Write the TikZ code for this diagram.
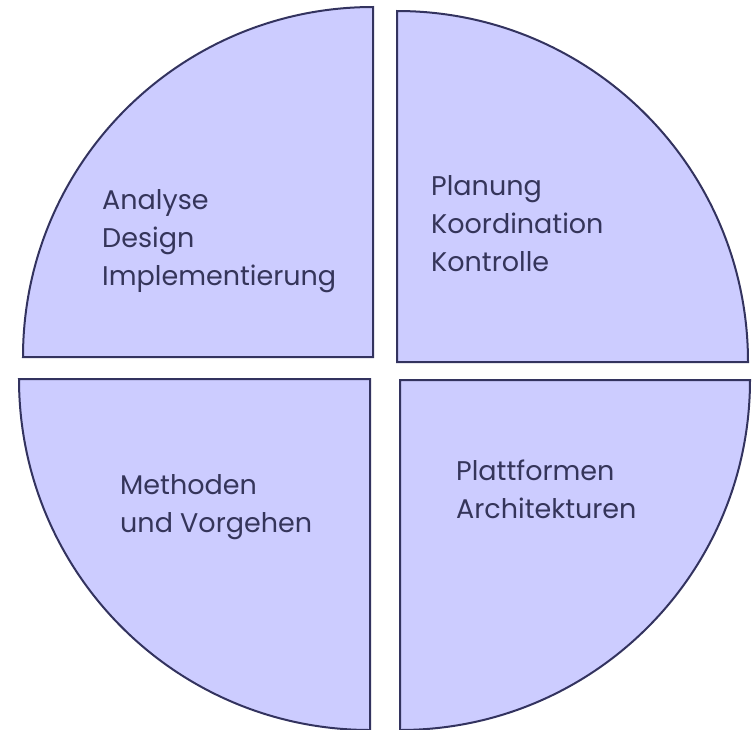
\documentclass[tikz,border=0pt]{standalone}
\usepackage{fontspec}
\setmainfont{Poppins}
\usetikzlibrary{positioning}
\definecolor{pie}{HTML}{CCCCFF}
\definecolor{rim}{HTML}{33335F}
\definecolor{ink}{HTML}{35355A}

\begin{document}
\begin{tikzpicture}[x=1pt,y=1pt,
				quarter/.style={fill=pie,draw=rim,line width=2pt,line join=miter},
				every node/.style={text=ink,anchor=north west,align=left,inner sep=0pt,
					font=\fontsize{27}{38}\selectfont}]
				\useasboundingbox (0,0) rectangle (752,-729);
				\draw[quarter] (373,-357) -- (373,-7)   arc[start angle=90, end angle=180,radius=350] -- cycle;
				\draw[quarter] (397,-362) -- (748,-362) arc[start angle=0,  end angle=90, radius=351] -- cycle;
				\draw[quarter] (370,-379) -- (19,-379)  arc[start angle=180,end angle=270,radius=351] -- cycle;
				\draw[quarter] (400,-380) -- (400,-730) arc[start angle=270,end angle=360,radius=350] -- cycle;
				
				\node (SE)   at (102,-189) {Analyse\\Design\\Implementierung};
				\node (PM)   at (431,-175) {Planung\\Koordination\\Kontrolle};
				\node (MV)   at (120,-474) {Methoden\\und Vorgehen};
				\node (PA)   at (456,-460) {Plattformen\\Architekturen};
			\end{tikzpicture}
\end{document}
